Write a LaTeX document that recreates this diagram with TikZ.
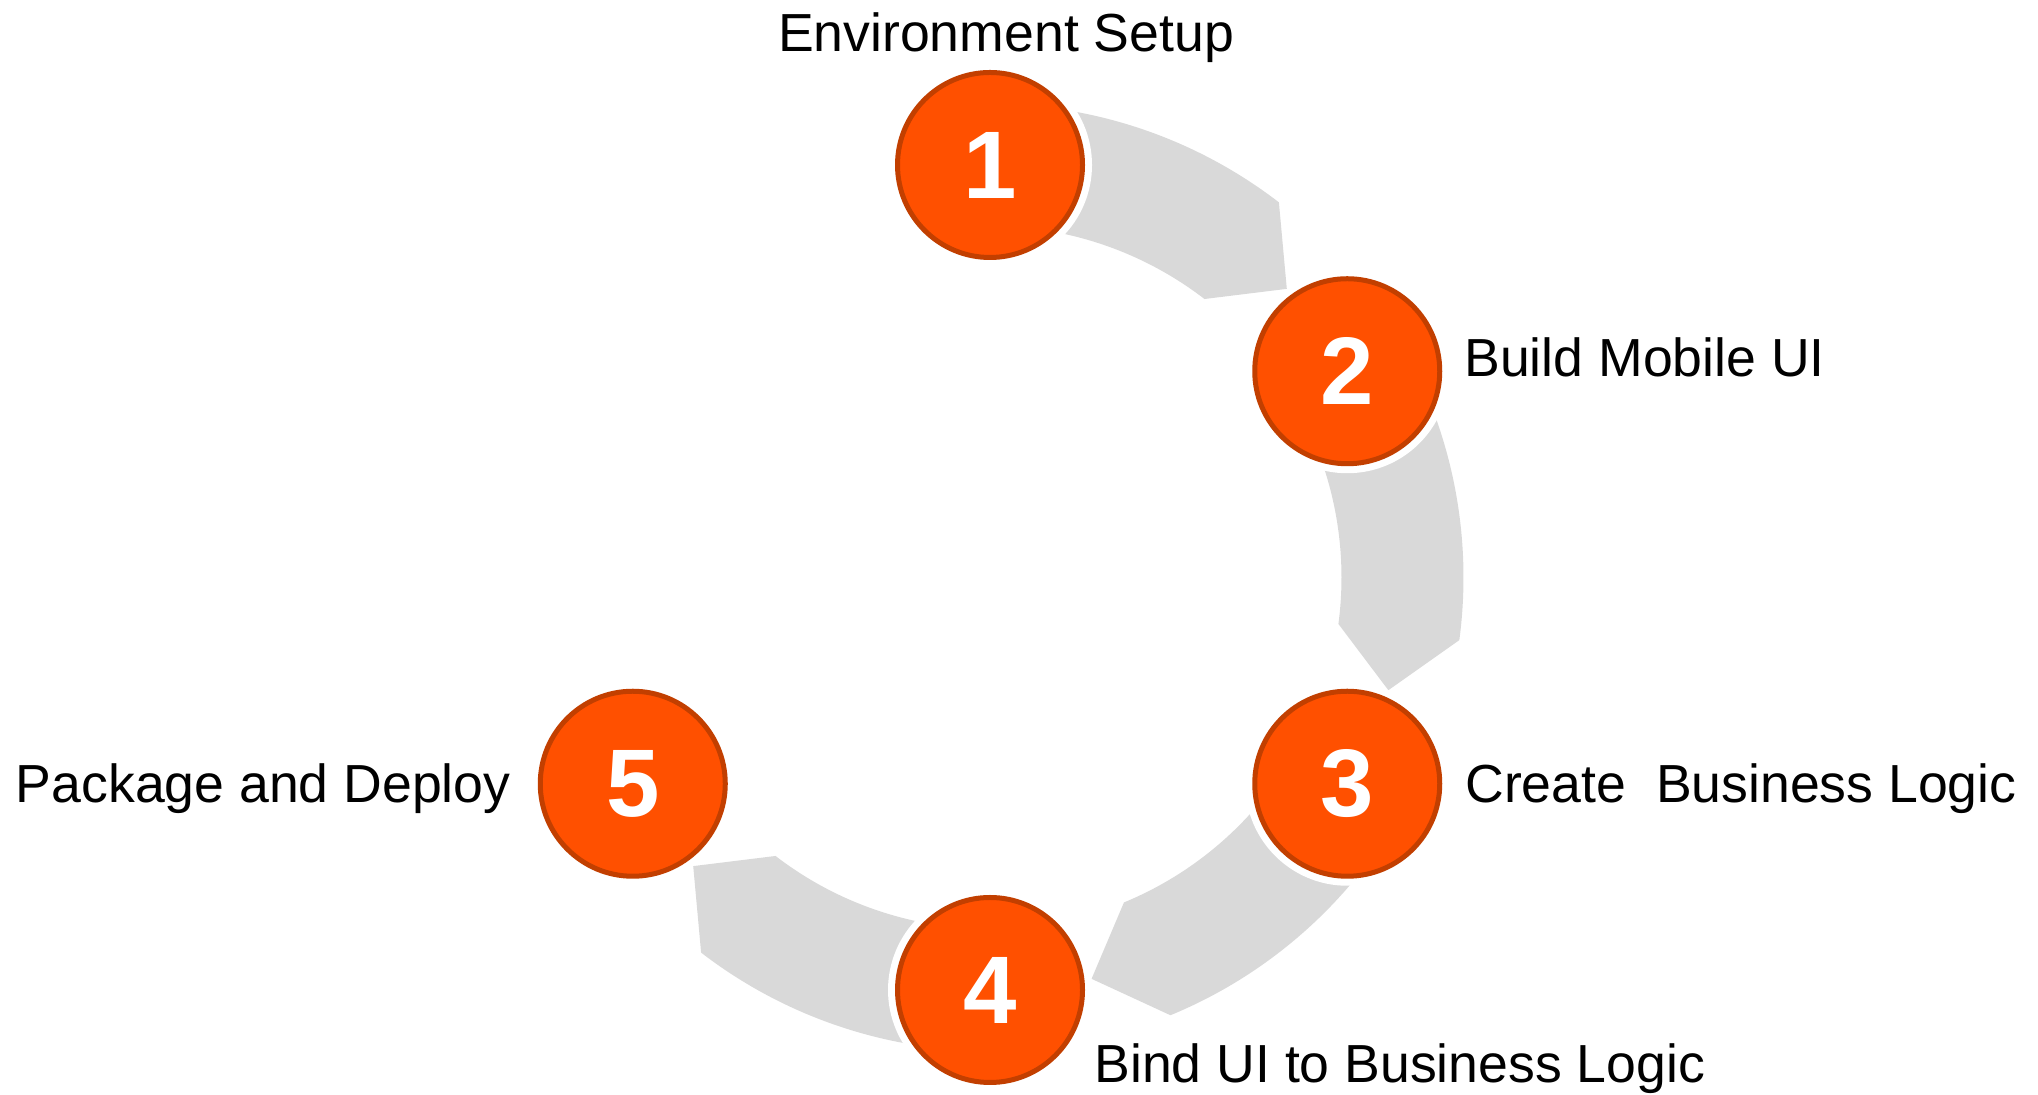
\documentclass[tikz,border=0pt]{standalone}
\usepackage{fontspec}
\setmainfont{Liberation Sans}
\usetikzlibrary{positioning}
\definecolor{stepfill}{HTML}{FF5000}
\definecolor{stepline}{HTML}{C23F00}
\definecolor{bandgray}{HTML}{D9D9D9}

\begin{document}
\begin{tikzpicture}[x=0.5pt, y=0.5pt,
	stepnode/.style={circle, draw=stepline, line width=2.5pt, fill=stepfill, minimum size=92.5pt, inner sep=0pt,
		text=white, font=\fontsize{48}{48}\selectfont\bfseries, preaction={draw=white, line width=9.5pt}},
	lbl/.style={inner sep=0pt, font=\fontsize{26.8}{30}\selectfont},
	band/.style={fill=bandgray}]
	\useasboundingbox (0,0) rectangle (2038,1095);
	% We start with the centre of the ring
	\coordinate (ctr) at (990,517.5);
	% The grey arrows go below the steps
	\fill [band] ([shift={(90:473.5)}]ctr) arc [start angle=90, end angle=52.4, radius=473.5]
		-- ([shift={(44.2:414)}]ctr) -- ([shift={(52.4:351.5)}]ctr)
		arc [start angle=52.4, end angle=90, radius=351.5] -- cycle;
	\fill [band] ([shift={(30:473.5)}]ctr) arc [start angle=30, end angle=-7.6, radius=473.5]
		-- ([shift={(-15.8:414)}]ctr) -- ([shift={(-7.6:351.5)}]ctr)
		arc [start angle=-7.6, end angle=30, radius=351.5] -- cycle;
	\fill [band] ([shift={(-30:473.5)}]ctr) arc [start angle=-30, end angle=-67.6, radius=473.5]
		-- ([shift={(-75.8:414)}]ctr) -- ([shift={(-67.6:351.5)}]ctr)
		arc [start angle=-67.6, end angle=-30, radius=351.5] -- cycle;
	\fill [band] ([shift={(-90:473.5)}]ctr) arc [start angle=-90, end angle=-127.6, radius=473.5]
		-- ([shift={(-135.8:414)}]ctr) -- ([shift={(-127.6:351.5)}]ctr)
		arc [start angle=-127.6, end angle=-90, radius=351.5] -- cycle;
	% Then the numbered steps
	\node [stepnode] (s1) at ([shift={(90:412.5)}]ctr) {1};
	\node [stepnode] (s2) at ([shift={(30:412.5)}]ctr) {2};
	\node [stepnode] (s3) at ([shift={(-30:412.5)}]ctr) {3};
	\node [stepnode] (s4) at ([shift={(-90:412.5)}]ctr) {4};
	\node [stepnode] (s5) at ([shift={(-150:412.5)}]ctr) {5};
	% And the texts
	\node [lbl, anchor=base] (l1) at (1006,1043) {Environment Setup};
	\node [lbl, anchor=base west] (l2) at (1464,718) {Build Mobile UI};
	\node [lbl, anchor=base west] (l3) at (1465,292) {Create\ \ Business Logic};
	\node [lbl, anchor=base west] (l4) at (1094,12) {Bind UI to Business Logic};
	\node [lbl, anchor=base east] (l5) at (511,292) {Package and Deploy};
\end{tikzpicture}
\end{document}
